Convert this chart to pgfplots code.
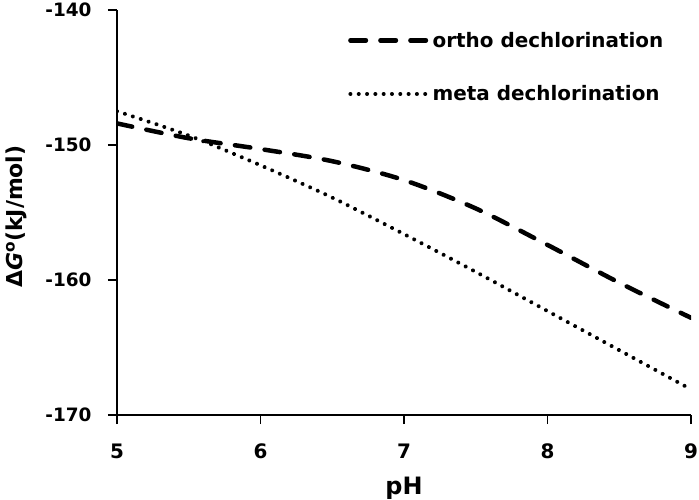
\documentclass[border=0pt]{standalone}
\usepackage{fontspec}
\setmainfont{DejaVu Sans}
\usepackage{pgfplots}
\pgfplotsset{compat=1.18}
\begin{document}
\begin{tikzpicture}
\useasboundingbox (-117bp,-85bp) rectangle (582bp,415bp);
\begin{axis}[
  at={(0,0)}, anchor=south west,
  scale only axis, width=574bp, height=405bp,
  xmin=5, xmax=9, ymin=-170, ymax=-140,
  xtick={5,6,7,8,9}, ytick={-170,-160,-150,-140},
  axis x line*=bottom, axis y line*=left,
  axis line style={line width=1.5bp, -},
  tick style={line width=1.5bp, black},
  tick align=outside, major tick length=9bp,
  /pgf/number format/assume math mode=true,
  yticklabel style={font=\fontsize{18.5}{20}\selectfont\bfseries, xshift=-13bp},
  xticklabel style={font=\fontsize{20}{22}\selectfont\bfseries, yshift=-16bp},
  xlabel={\fontsize{24}{26}\selectfont\bfseries pH},
  ylabel={\fontsize{22}{24}\selectfont\bfseries Δ\textit{G}\textsuperscript{o}(kJ/mol)},
  xlabel style={at={(axis description cs:0.5,-0.180)}, anchor=center},
  ylabel style={at={(axis description cs:-0.176,0.49)}, anchor=center},
  legend cell align=left,
  legend style={draw=none, fill=none, at={(0.4024,0.951)}, anchor=north west,
    font=\fontsize{20}{22}\selectfont\bfseries, row sep=33bp, inner sep=0pt,
    column sep=1bp},
  legend image code/.code={\draw[#1] (0bp,0bp) -- (77bp,0bp);},
]
\addplot[black, line width=4.5bp, line cap=round, dash pattern=on 15.5bp off 14.5bp, smooth]
coordinates {(5,-148.4)(5.5,-149.5)(6,-150.3)(6.5,-151.2)(7,-152.6)(7.5,-154.7)(8,-157.4)(8.5,-160.2)(9,-162.8)};
\addlegendentry{ortho dechlorination}
\addplot[black, line width=4bp, line cap=round, dash pattern=on 0.01bp off 8.3bp, smooth]
coordinates {(5,-147.5)(5.5,-149.3)(6,-151.5)(6.5,-153.9)(7,-156.6)(7.5,-159.4)(8,-162.3)(8.5,-165.2)(9,-168.1)};
\addlegendentry{meta dechlorination}
\end{axis}
\end{tikzpicture}
\end{document}
